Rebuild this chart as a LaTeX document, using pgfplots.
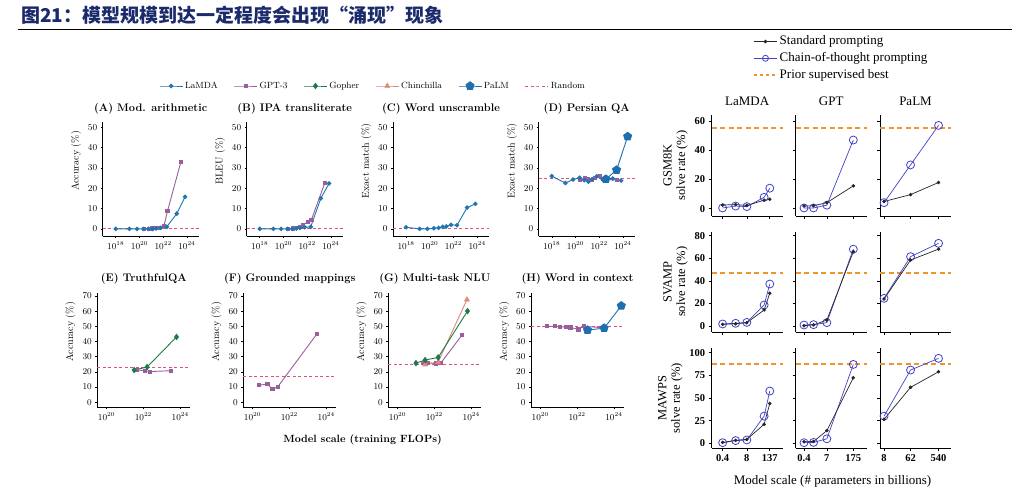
\documentclass[border=0pt]{standalone}
\usepackage{fontspec}
\usepackage{pgfplots}
\pgfplotsset{compat=1.18}
\newfontfamily\tnr{Liberation Serif}
\newfontfamily\cjk{Noto Sans CJK SC}
\definecolor{lamda}{HTML}{2176B0}
\definecolor{gpt}{HTML}{9A5E9E}
\definecolor{gopher}{HTML}{1D7A4B}
\definecolor{chin}{HTML}{DE8B75}
\definecolor{palm}{HTML}{1F6FAE}
\definecolor{rand}{HTML}{E0507A}
\definecolor{cot}{HTML}{4141C8}
\definecolor{prior}{HTML}{F0952E}
\definecolor{navy}{HTML}{1B2A6B}
\pgfplotsset{
  lamdaS/.style={color=lamda, line width=0.9pt, mark=*, mark size=1.8pt, mark options={solid}},
  gptS/.style={color=gpt, line width=0.9pt, mark=square*, mark size=1.6pt, mark options={solid}},
  gopherS/.style={color=gopher, line width=0.9pt, mark=diamond*, mark size=2.6pt, mark options={solid}},
  chinS/.style={color=chin, line width=0.9pt, mark=triangle*, mark size=2.6pt, mark options={solid}},
  palmS/.style={color=palm, line width=0.9pt, mark=pentagon*, mark size=4.2pt, mark options={solid}},
  randS/.style={color=rand, line width=0.9pt, dash pattern=on 3pt off 2.5pt},
  stdS/.style={color=black!85, line width=0.7pt, mark=*, mark size=1.4pt},
  cotS/.style={color=cot, line width=0.7pt, mark=o, mark size=4pt, mark options={line width=0.8pt}},
  priorS/.style={color=prior, line width=1.8pt, dash pattern=on 5pt off 3.5pt},
  LBase/.style={scale only axis, axis lines=left,
    axis line style={-, line width=0.5pt}, tick align=outside, major tick length=2pt,
    tick style={line width=0.5pt, black}, clip=false,
    ticklabel style={font=\fontsize{9}{10}\selectfont},
    title style={font=\fontsize{11}{13}\selectfont\bfseries, yshift=-1pt},
    ylabel style={font=\fontsize{10}{12}\selectfont, at={(ticklabel cs:0.66)}}},
  LRowOne/.style={width=96pt, height=113.7pt, xmin=7.94e16, xmax=1e25, ymin=-3.5, ymax=52.5,
    ytick={0,10,20,30,40,50}, xtick={1e18,1e20,1e22,1e24}},
  LRowTwo/.style={width=93pt, height=114.4pt, xmin=3.16e19, xmax=3.55e24, ymin=-3.3, ymax=72,
    ytick={0,10,20,30,40,50,60,70}, xtick={1e20,1e22,1e24}},
  RBase/.style={scale only axis, axis lines=left,
    axis line style={-, line width=0.6pt}, tick align=outside, major tick length=3pt,
    tick style={line width=0.6pt, black}, width=71pt, clip=false,
    ticklabel style={font=\tnr\bfseries\fontsize{10.5}{12}\selectfont},
    title style={font=\tnr\fontsize{13}{15}\selectfont},
    ylabel style={font=\tnr\fontsize{12.5}{13.5}\selectfont, align=center}},
  colL/.style={xmin=0.1033, xmax=679, xtick={0.4,8,137}, xticklabels={0.4,8,137}},
  colG/.style={xmin=0.144, xmax=912, xtick={0.4,6.7,175}, xticklabels={0.4,7,175}},
  colP/.style={xmin=5.86, xmax=1413, xtick={8,62,540}, xticklabels={8,62,540}},
  rowI/.style={height=101pt, ymin=-5, ymax=64, ytick={0,20,40,60}, yticklabels={0,20,40,60}},
  rowII/.style={height=100.3pt, ymin=-5.3, ymax=83.5, ytick={0,20,40,60,80}, yticklabels={0,20,40,60,80}},
  rowIII/.style={height=100pt, ymin=-5.5, ymax=104.9, ytick={0,25,50,75,100}, yticklabels={0,25,50,75,100}},
  noxl/.style={xticklabels={}},
  noyl/.style={yticklabels={}},
}
\begin{document}
\begin{tikzpicture}
\path[use as bounding box] (0,0) rectangle (1024pt,495pt);
\fill[white] (0,0) rectangle (1024pt,495pt);
% title
\node[anchor=west, inner sep=0pt, text=navy, font=\cjk\bfseries\fontsize{19}{21}\selectfont] at (21pt,480pt) {图21：模型规模到达一定程度会出现“涌现”现象};
\draw[line width=0.8pt] (18pt,466pt) -- (1012pt,466pt);

% ---------- left legend ----------
\begin{axis}[hide axis, scale only axis, width=1pt, height=1pt, xmin=0, xmax=1, ymin=0, ymax=1,
  at={(373pt,409pt)}, anchor=south west, legend columns=-1,
  legend style={at={(0,0)}, anchor=center, draw=none, fill=none, font=\fontsize{9}{10}\selectfont,
    /tikz/every even column/.append style={column sep=14pt}},
  legend image code/.code={\draw[mark repeat=2,mark phase=2,#1] plot coordinates {(0pt,0pt)(11.5pt,0pt)(23pt,0pt)};}]
\addlegendimage{lamdaS}\addlegendentry{LaMDA}
\addlegendimage{gptS}\addlegendentry{GPT-3}
\addlegendimage{gopherS}\addlegendentry{Gopher}
\addlegendimage{chinS}\addlegendentry{Chinchilla}
\addlegendimage{palmS}\addlegendentry{PaLM}
\addlegendimage{randS}\addlegendentry{Random}
\end{axis}

% ---------- row 1 ----------
\begin{axis}[xmode=log, LBase, LRowOne, at={(102.7pt,259pt)}, anchor=south west, title={(A) Mod. arithmetic}, ylabel={Accuracy (\%)}]
\addplot[randS] coordinates {(7.94e16,0) (1e25,0)};
\addplot[gptS] coordinates {(2.25e20,0) (6.41e20,0) (1.2e21,0.2) (2.38e21,0.4) (4.38e21,0.6) (1.18e22,1.6) (2.31e22,8.7) (3.14e23,33)};
\addplot[lamdaS] coordinates {(1e18,0) (1.41e19,0) (6.31e19,0) (2.24e20,0) (5.62e20,0) (1.26e21,0) (2.51e21,0.2) (6.31e21,0.5) (2e22,1) (1.41e23,7.5) (7.08e23,15.8)};
\end{axis}
\begin{axis}[xmode=log, LBase, LRowOne, at={(246.7pt,259pt)}, anchor=south west, title={(B) IPA transliterate}, ylabel={BLEU (\%)}]
\addplot[randS] coordinates {(7.94e16,0) (1e25,0)};
\addplot[gptS] coordinates {(2.25e20,0) (6.41e20,0.2) (1.2e21,0.5) (2.38e21,1) (4.38e21,2) (1.18e22,3.5) (2.31e22,4.6) (3.14e23,22.7)};
\addplot[lamdaS] coordinates {(1e18,0) (1.41e19,0) (6.31e19,0) (2.24e20,0) (5.62e20,0) (1.26e21,0.2) (2.51e21,0.5) (6.31e21,0.8) (2e22,1) (1.41e23,15) (7.08e23,22.4)};
\end{axis}
\begin{axis}[xmode=log, LBase, LRowOne, at={(393pt,259pt)}, anchor=south west, title={(C) Word unscramble}, ylabel={Exact match (\%)}]
\addplot[randS] coordinates {(7.94e16,0) (1e25,0)};
\addplot[lamdaS] coordinates {(1e18,0.8) (1.41e19,0) (6.31e19,0) (2.24e20,0.3) (5.62e20,0.5) (1.26e21,1) (2.51e21,1.2) (6.31e21,2) (2e22,1.8) (1.41e23,10.5) (7.08e23,12.3)};
\end{axis}
\begin{axis}[xmode=log, LBase, LRowOne, at={(538.7pt,259pt)}, anchor=south west, title={(D) Persian QA}, ylabel={Exact match (\%)}]
\addplot[randS] coordinates {(7.94e16,25) (1e25,25)};
\addplot[gptS] coordinates {(2.25e20,24) (6.41e20,25) (1.2e21,24.5) (2.38e21,24) (4.38e21,25) (1.18e22,26) (2.31e22,24.5) (3.14e23,24)};
\addplot[lamdaS] coordinates {(1e18,26) (1.41e19,22.6) (6.31e19,24.3) (2.24e20,25.2) (5.62e20,24) (1.26e21,23.2) (2.51e21,24.5) (6.31e21,25.9) (2e22,24.2) (1.41e23,24.8) (7.08e23,23.8)};
\addplot[palmS] coordinates {(3.7e22,24.5) (2.95e23,29) (2.53e24,45.5)};
\end{axis}

% ---------- row 2 ----------
\begin{axis}[xmode=log, LBase, LRowTwo, at={(97.3pt,87.7pt)}, anchor=south west, title={(E) TruthfulQA}, ylabel={Accuracy (\%)}]
\addplot[randS] coordinates {(3.16e19,22.8) (3.55e24,22.8)};
\addplot[gptS] coordinates {(4.38e21,21.3) (1.18e22,20.8) (2.31e22,20.2) (3.14e23,20.8)};
\addplot[gopherS] coordinates {(3.16e21,21.2) (1.6e22,23.2) (6.31e23,43)};
\end{axis}
\begin{axis}[xmode=log, LBase, LRowTwo, at={(243.3pt,87.7pt)}, anchor=south west, title={(F) Grounded mappings}, ylabel={Accuracy (\%)}]
\addplot[randS] coordinates {(3.16e19,16.7) (3.55e24,16.7)};
\addplot[gptS] coordinates {(2.25e20,11.2) (6.41e20,12) (1.2e21,8.6) (2.38e21,10.3) (3.14e23,45)};
\end{axis}
\begin{axis}[xmode=log, LBase, LRowTwo, at={(388.3pt,87.7pt)}, anchor=south west, title={(G) Multi-task NLU}, ylabel={Accuracy (\%)}]
\addplot[randS] coordinates {(3.16e19,25) (3.55e24,25)};
\addplot[gptS] coordinates {(2.38e21,26) (4.38e21,26) (1.18e22,25.5) (2.31e22,26) (3.14e23,44.2)};
\addplot[chinS] coordinates {(3.16e21,24.8) (1.6e22,26.5) (5.88e23,67.5)};
\addplot[gopherS] coordinates {(1e21,25.8) (3.16e21,27.8) (1.6e22,29.5) (6.31e23,60)};
\end{axis}
\begin{axis}[xmode=log, LBase, LRowTwo, at={(531pt,87.7pt)}, anchor=south west, title={(H) Word in context}, ylabel={Accuracy (\%)}]
\addplot[randS] coordinates {(3.16e19,50) (3.55e24,50)};
\addplot[gptS] coordinates {(2.25e20,50) (6.41e20,50) (1.2e21,49.8) (2.38e21,49.5) (4.38e21,49.2) (1.18e22,48) (2.31e22,50) (3.14e23,49)};
\addplot[palmS] coordinates {(3.7e22,47.5) (2.95e23,48.8) (2.53e24,63.5)};
\end{axis}
\node[font=\fontsize{10.5}{12}\selectfont\bfseries] at (362.5pt,55pt) {Model scale (training FLOPs)};

% ---------- right legend ----------
\begin{axis}[hide axis, scale only axis, width=1pt, height=1pt, xmin=0, xmax=1, ymin=0, ymax=1,
  at={(750pt,436.7pt)}, anchor=south west,
  legend style={at={(0,0)}, anchor=west, draw=none, fill=none, font=\tnr\fontsize{13}{15}\selectfont,
    row sep=0pt, cells={anchor=west}, nodes={inner ysep=1.6pt, text height=10pt, text depth=3.5pt}},
  legend image code/.code={\draw[mark repeat=2,mark phase=2,#1] plot coordinates {(0pt,0pt)(11.5pt,0pt)(23pt,0pt)};}]
\addlegendimage{stdS}\addlegendentry{Standard prompting}
\addlegendimage{cotS, mark size=3pt}\addlegendentry{Chain-of-thought prompting}
\addlegendimage{priorS, line width=1.5pt, dash pattern=on 3.5pt off 2.5pt}\addlegendentry{Prior supervised best}
\end{axis}

% ---------- right: GSM8K ----------
\begin{axis}[xmode=log, RBase, colL, rowI, noxl, at={(711.7pt,279pt)}, anchor=south west, title={LaMDA}, ylabel={GSM8K\\solve rate (\%)}]
\addplot[priorS] coordinates {(0.1033,55) (679,55)};
\addplot[cotS] coordinates {(0.4,0.5) (2,1.8) (8,1.4) (68,7.8) (137,14)};
\addplot[stdS] coordinates {(0.4,2.5) (2,2.8) (8,2.2) (68,5.8) (137,6.4)};
\end{axis}
\begin{axis}[xmode=log, RBase, colG, rowI, noxl, noyl, at={(795.7pt,279pt)}, anchor=south west, title={GPT}]
\addplot[priorS] coordinates {(0.144,55) (912,55)};
\addplot[cotS] coordinates {(0.4,0.5) (1.3,0.5) (6.7,2.4) (175,46.9)};
\addplot[stdS] coordinates {(0.4,1.8) (1.3,2) (6.7,4.1) (175,15.6)};
\end{axis}
\begin{axis}[xmode=log, RBase, colP, rowI, noxl, noyl, at={(880pt,279pt)}, anchor=south west, title={PaLM}]
\addplot[priorS] coordinates {(5.86,55) (1413,55)};
\addplot[cotS] coordinates {(8,4.1) (62,29.9) (540,56.9)};
\addplot[stdS] coordinates {(8,4.9) (62,9.6) (540,17.9)};
\end{axis}
% ---------- right: SVAMP ----------
\begin{axis}[xmode=log, RBase, colL, rowII, noxl, at={(711.7pt,163pt)}, anchor=south west, ylabel={SVAMP\\solve rate (\%)}]
\addplot[priorS] coordinates {(0.1033,47) (679,47)};
\addplot[cotS] coordinates {(0.4,1.8) (2,2.4) (8,3.2) (68,18.6) (137,37.2)};
\addplot[stdS] coordinates {(0.4,1.5) (2,2.0) (8,2.9) (68,14.2) (137,29)};
\end{axis}
\begin{axis}[xmode=log, RBase, colG, rowII, noxl, noyl, at={(795.7pt,163pt)}, anchor=south west]
\addplot[priorS] coordinates {(0.144,47) (912,47)};
\addplot[cotS] coordinates {(0.4,0.9) (1.3,1.2) (6.7,3.0) (175,68)};
\addplot[stdS] coordinates {(0.4,0.3) (1.3,1.0) (6.7,5.3) (175,65.8)};
\end{axis}
\begin{axis}[xmode=log, RBase, colP, rowII, noxl, noyl, at={(880pt,163pt)}, anchor=south west]
\addplot[priorS] coordinates {(5.86,47) (1413,47)};
\addplot[cotS] coordinates {(8,24.5) (62,61.4) (540,73.2)};
\addplot[stdS] coordinates {(8,23.9) (62,58.4) (540,68.1)};
\end{axis}
% ---------- right: MAWPS ----------
\begin{axis}[xmode=log, RBase, colL, rowIII, at={(711.7pt,46.7pt)}, anchor=south west, ylabel={MAWPS\\solve rate (\%)}]
\addplot[priorS] coordinates {(0.1033,88) (679,88)};
\addplot[cotS] coordinates {(0.4,0.7) (2,3) (8,3.7) (68,30) (137,57.7)};
\addplot[stdS] coordinates {(0.4,1) (2,3.3) (8,4.4) (68,21) (137,44)};
\end{axis}
\begin{axis}[xmode=log, RBase, colG, rowIII, noyl, at={(795.7pt,46.7pt)}, anchor=south west]
\addplot[priorS] coordinates {(0.144,88) (912,88)};
\addplot[cotS] coordinates {(0.4,0.7) (1.3,1) (6.7,5) (175,87.1)};
\addplot[stdS] coordinates {(0.4,1.8) (1.3,2) (6.7,14) (175,72.4)};
\end{axis}
\begin{axis}[xmode=log, RBase, colP, rowIII, noyl, at={(880pt,46.7pt)}, anchor=south west]
\addplot[priorS] coordinates {(5.86,88) (1413,88)};
\addplot[cotS] coordinates {(8,30) (62,80.9) (540,93.8)};
\addplot[stdS] coordinates {(8,26.5) (62,61.8) (540,79)};
\end{axis}
\node[font=\tnr\fontsize{13}{15}\selectfont] at (832.5pt,13.3pt) {Model scale (\# parameters in billions)};
\end{tikzpicture}
\end{document}
